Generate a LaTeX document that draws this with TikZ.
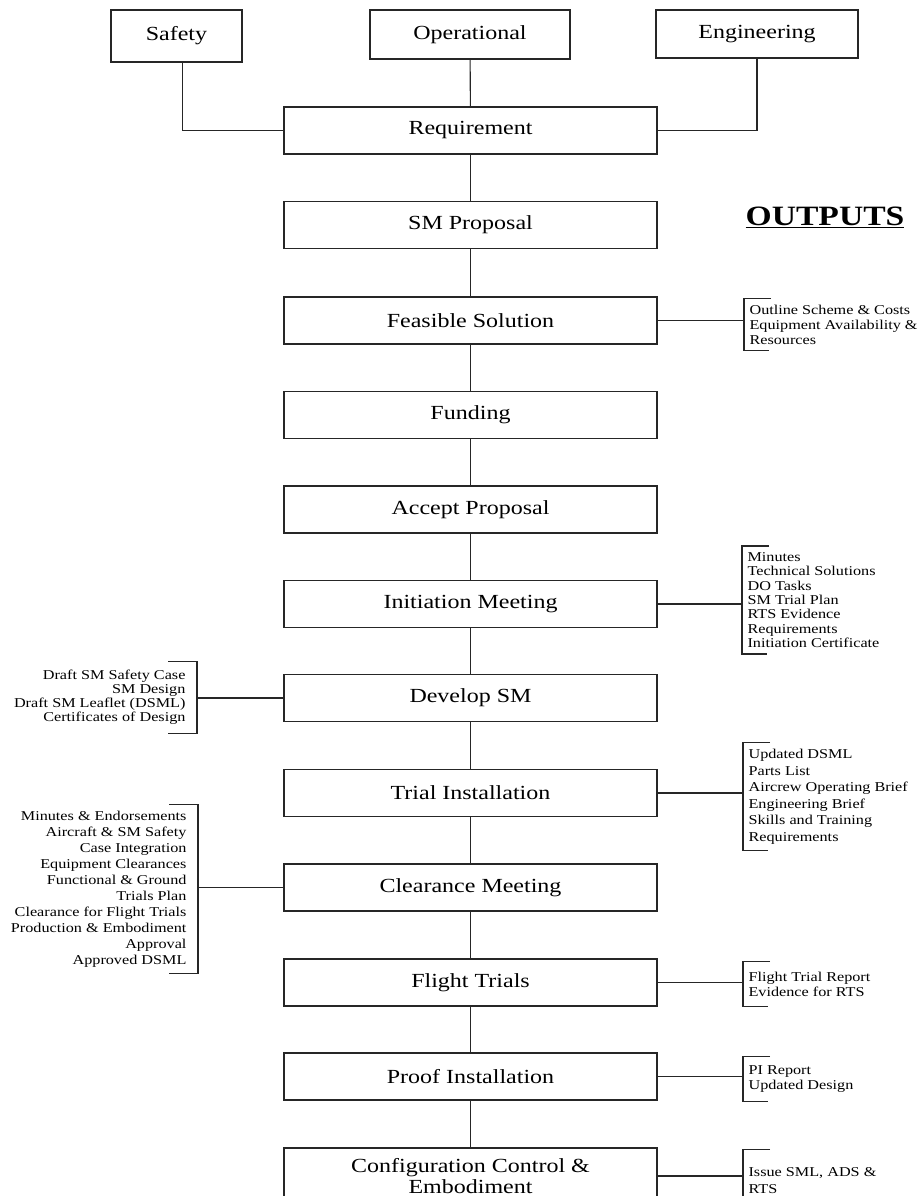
\documentclass[tikz,border=0pt]{standalone}
\usepackage{fontspec}
\setmainfont{Liberation Serif}[FakeStretch=1.2]

\tikzset{
  source/.style={draw, inner sep=0pt, font=\fontsize{20}{23}\selectfont},
  stage/.style={draw, minimum width=373pt, minimum height=47pt, inner sep=0pt,
    align=center, font=\fontsize{20}{23}\selectfont},
  outlist/.style={anchor=west, inner xsep=5pt, inner ysep=6pt, align=left,
    font=\fontsize{13.5}{15}\selectfont},
  inlist/.style={anchor=east, inner xsep=11pt, inner ysep=6pt, align=right,
    font=\fontsize{13.5}{15}\selectfont}
}

\begin{document}
\begin{tikzpicture}[x=1pt, y=-1pt, line width=1.1pt, draw=black!85]
  \useasboundingbox (0,0) rectangle (920,1196);

  % inputs
  \node[source, minimum width=131pt, minimum height=52pt] (safety) at (176.5,36) {Safety};
  \node[source, minimum width=200pt, minimum height=49pt] (operational) at (470,34.5) {Operational};
  \node[source, minimum width=202pt, minimum height=48pt] (engineering) at (757,34) {Engineering};

  % stages
  \node[stage] (req) at (470.5,130.5) {Requirement};
  \node[stage] (proposal) at (470.5,225) {SM Proposal};
  \node[stage] (feasible) at (470.5,320.5) {Feasible Solution};
  \node[stage] (funding) at (470.5,415) {Funding};
  \node[stage] (accept) at (470.5,509.5) {Accept Proposal};
  \node[stage] (initiation) at (470.5,604) {Initiation Meeting};
  \node[stage] (develop) at (470.5,698) {Develop SM};
  \node[stage] (trial) at (470.5,793) {Trial Installation};
  \node[stage] (clearance) at (470.5,887.5) {Clearance Meeting};
  \node[stage] (flight) at (470.5,982.5) {Flight Trials};
  \node[stage] (proof) at (470.5,1076.5) {Proof Installation};
  \node[stage, minimum height=56pt, font=\fontsize{20}{21.5}\selectfont] (config) at (470.5,1176) {Configuration Control \&\\Embodiment};

  \node[font=\fontsize{28}{30}\selectfont\bfseries] (outputs) at (825,217) {\underline{OUTPUTS}};

  % outputs
  \node[outlist] (feasout) at (744,324.5) {Outline Scheme \& Costs\\Equipment Availability \&\\Resources};
  \node[outlist, font=\fontsize{13.5}{14.3}\selectfont] (initout) at (742,600) {Minutes\\Technical Solutions\\DO Tasks\\SM Trial Plan\\RTS Evidence\\Requirements\\Initiation Certificate};
  \node[outlist, font=\fontsize{13.5}{16.5}\selectfont] (trialout) at (743,796.5) {Updated DSML\\Parts List\\Aircrew Operating Brief\\Engineering Brief\\Skills and Training\\Requirements};
  \node[outlist, inner ysep=10pt] (flightout) at (743,984) {Flight Trial Report\\Evidence for RTS};
  \node[outlist, inner ysep=9pt] (proofout) at (743,1079) {PI Report\\Updated Design};
  \node[outlist, font=\fontsize{13.5}{17}\selectfont, minimum height=62pt] (configout) at (743,1181) {Issue SML, ADS \&\\RTS};

  \node[inlist, font=\fontsize{13.5}{14}\selectfont, inner ysep=8pt] (developin) at (197,697.5) {Draft SM Safety Case\\SM Design\\Draft SM Leaflet (DSML)\\Certificates of Design};
  \node[inlist, font=\fontsize{13.5}{16}\selectfont] (clearancein) at (198,889) {Minutes \& Endorsements\\Aircraft \& SM Safety\\Case Integration\\Equipment Clearances\\Functional \& Ground\\Trials Plan\\Clearance for Flight Trials\\Production \& Embodiment\\Approval\\Approved DSML};

  % connectors
  \draw ([xshift=6pt]safety.south) |- (req.west);
  \draw (operational) -- (req);
  \draw (engineering.south) |- (req.east);
  \foreach \a/\b in {req/proposal, proposal/feasible, feasible/funding, funding/accept,
    accept/initiation, initiation/develop, develop/trial, trial/clearance,
    clearance/flight, flight/proof, proof/config}
    \draw (\a.south) -- (\b.north);

  \foreach \s/\l in {feasible/feasout, initiation/initout, trial/trialout,
    flight/flightout, proof/proofout, config/configout}
  {
    \draw (\s.east) -- (\s.east -| \l.west);
    \draw ([xshift=27pt]\l.north west) -- (\l.north west) -- (\l.south west) -- ([xshift=25pt]\l.south west);
  };
  \foreach \s/\l in {develop/developin, clearance/clearancein}
  {
    \draw (\s.west) -- (\s.west -| \l.east);
    \draw ([xshift=-29pt]\l.north east) -- (\l.north east) -- (\l.south east) -- ([xshift=-29pt]\l.south east);
  };
\end{tikzpicture}
\end{document}
